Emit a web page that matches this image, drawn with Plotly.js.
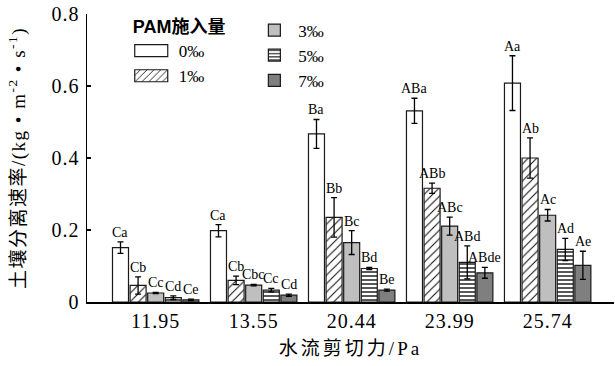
<!DOCTYPE html>
<html>
<head>
<meta charset="utf-8">
<script src="https://cdn.plot.ly/plotly-3.0.1.min.js"></script>
<style>
  html, body { margin: 0; padding: 0; background: #fff; }
  #chart { width: 615px; height: 366px; }
  #chart .xtick text, #chart .ytick text { letter-spacing: 1px; }
  #chart .g-xtitle text { letter-spacing: 3px; }
  #chart .g-ytitle text { letter-spacing: 1.5px; }
</style>
</head>
<body>
<div id="chart"></div>
<script>
// Shear stress levels (Pa)
const shear = ['11.95', '13.55', '20.44', '23.99', '25.74'];

// PAM application rates
const rateNames = ['0‰', '1‰', '3‰', '5‰', '7‰'];

// Soil detachment rate, kg·m^-2·s^-1, one array per PAM rate
const rate0 = [0.151, 0.198, 0.467, 0.531, 0.608];
const rate1 = [0.046, 0.060, 0.235, 0.316, 0.400];
const rate3 = [0.025, 0.047, 0.165, 0.211, 0.241];
const rate5 = [0.012, 0.033, 0.093, 0.110, 0.146];
const rate7 = [0.006, 0.019, 0.033, 0.081, 0.102];

// Standard errors
const err0 = [0.016, 0.017, 0.040, 0.035, 0.076];
const err1 = [0.024, 0.012, 0.055, 0.014, 0.056];
const err3 = [0.002, 0.002, 0.033, 0.025, 0.016];
const err5 = [0.005, 0.005, 0.003, 0.046, 0.031];
const err7 = [0.002, 0.003, 0.003, 0.015, 0.039];

// Significance letters
const sig0 = ['Ca', 'Ca', 'Ba', 'ABa', 'Aa'];
const sig1 = ['Cb', 'Cb', 'Bb', 'ABb', 'Ab'];
const sig3 = ['Cc', 'Cbc', 'Bc', 'ABc', 'Ac'];
const sig5 = ['Cd', 'Cc', 'Bd', 'ABd', 'Ad'];
const sig7 = ['Ce', 'Cd', 'Be', 'ABde', 'Ae'];

const values = [rate0, rate1, rate3, rate5, rate7];
const errors = [err0, err1, err3, err5, err7];
const letters = [sig0, sig1, sig3, sig5, sig7];

const SERIF = '"Liberation Serif", "Times New Roman", "Noto Sans CJK SC", serif';
const SANS = '"Liberation Sans", Arial, "Noto Sans CJK SC", sans-serif';

const styles = [
  { color: '#ffffff', pattern: { shape: '' } },
  { color: '#ffffff', pattern: { shape: '/', size: 6, solidity: 0.18, fgcolor: '#111', bgcolor: '#fff', fillmode: 'replace' } },
  { color: '#bfbfbf', pattern: { shape: '' } },
  { color: '#ffffff', pattern: { shape: '-', size: 4, solidity: 0.35, fgcolor: '#111', bgcolor: '#fff', fillmode: 'replace' } },
  { color: '#7f7f7f', pattern: { shape: '' } }
];
const legendOf = ['legend', 'legend', 'legend2', 'legend2', 'legend2'];

const BAR_GAP = 0.102;
const GROUP_GAP = 0.09;

const traces = values.map(function (v, k) {
  return {
    type: 'bar',
    name: rateNames[k],
    x: shear,
    y: v,
    legend: legendOf[k],
    marker: {
      color: styles[k].color,
      pattern: styles[k].pattern,
      line: { color: '#1a1a1a', width: 1.2 }
    },
    error_y: {
      type: 'data',
      array: errors[k],
      symmetric: true,
      color: '#000',
      thickness: 1.3,
      width: 3
    },
    hoverinfo: 'skip'
  };
});

// Letters sit just above each error bar; horizontal shift follows the grouped slot
const plotWidth = 615 - 87 - 1;
const xRange = [-0.701, 4.677];
const catPx = plotWidth / (xRange[1] - xRange[0]);
const slotPx = catPx * (1 - BAR_GAP) / values.length;

const annotations = [];
values.forEach(function (v, k) {
  v.forEach(function (val, i) {
    annotations.push({
      x: i,                       // category index on the category axis
      y: val + errors[k][i],
      xref: 'x',
      yref: 'y',
      text: letters[k][i],
      showarrow: false,
      xanchor: 'center',
      yanchor: 'bottom',
      xshift: (k - (values.length - 1) / 2) * slotPx,
      yshift: 0,
      font: { family: SERIF, size: 14, color: '#000' }
    });
  });
});

const layout = {
  width: 615,
  height: 366,
  margin: { l: 87, r: 1, t: 14, b: 64 },
  paper_bgcolor: '#fff',
  plot_bgcolor: '#fff',
  barmode: 'group',
  bargap: BAR_GAP,
  bargroupgap: GROUP_GAP,
  showlegend: true,
  xaxis: {
    type: 'category',
    range: xRange,
    showline: true,
    linecolor: '#000',
    linewidth: 1.5,
    ticks: '',
    showgrid: false,
    zeroline: false,
    tickfont: { family: SERIF, size: 20, color: '#000' },
    title: {
      text: '水流剪切力/Pa',
      font: { family: SERIF, size: 19, color: '#000' },
      standoff: 11
    }
  },
  yaxis: {
    range: [0, 0.8],
    tickvals: [0, 0.2, 0.4, 0.6, 0.8],
    ticktext: ['0', '0.2', '0.4', '0.6', '0.8'],
    ticks: 'inside',
    ticklen: 4,
    tickwidth: 1.3,
    tickcolor: '#000',
    ticklabelstandoff: 2,
    showline: true,
    linecolor: '#000',
    linewidth: 1.5,
    showgrid: false,
    zeroline: false,
    tickfont: { family: SERIF, size: 20, color: '#000' },
    title: {
      text: '土壤分离速率/(kg • m<sup>-2</sup> • s<sup>-1</sup>)',
      font: { family: SERIF, size: 19, color: '#000' },
      standoff: 24
    }
  },
  legend: {
    x: 0.083,
    xanchor: 'left',
    y: 1.015,
    yanchor: 'top',
    bgcolor: 'rgba(0,0,0,0)',
    borderwidth: 0,
    itemwidth: 38,
    tracegroupgap: 0,
    traceorder: 'normal',
    font: { family: SERIF, size: 17, color: '#000' },
    title: { text: 'PAM施入量', font: { family: SANS, size: 18, color: '#000', weight: 'bold' } }
  },
  legend2: {
    x: 0.31,
    xanchor: 'left',
    y: 1.005,
    yanchor: 'top',
    bgcolor: 'rgba(0,0,0,0)',
    borderwidth: 0,
    itemwidth: 38,
    tracegroupgap: 0,
    traceorder: 'normal',
    font: { family: SERIF, size: 17, color: '#000' }
  },
  annotations: annotations
};

// Legend keys in this figure are wide rectangles rather than small squares
function widenLegendKeys(gd) {
  gd.querySelectorAll('.traces').forEach(function (tr) {
    const path = tr.querySelector('.legendpoints path');
    const text = tr.querySelector('text.legendtext');
    if (!path || !text || path.dataset.wide) return;
    const pr = path.getBoundingClientRect();
    const trc = text.getBoundingClientRect();
    const pc = (pr.left + pr.right) / 2;
    const right = trc.left - 11 - pc;
    const left = right - 33;
    path.setAttribute('d', 'M' + right + ',6H' + left + 'V-6H' + right + 'Z');
    path.style.strokeWidth = '1.2px';
    path.dataset.wide = '1';
  });
}

const gd = document.getElementById('chart');
Plotly.newPlot(gd, traces, layout, { staticPlot: true, displayModeBar: false }).then(function () {
  widenLegendKeys(gd);
  gd.on('plotly_afterplot', function () { widenLegendKeys(gd); });
});
</script>
</body>
</html>
